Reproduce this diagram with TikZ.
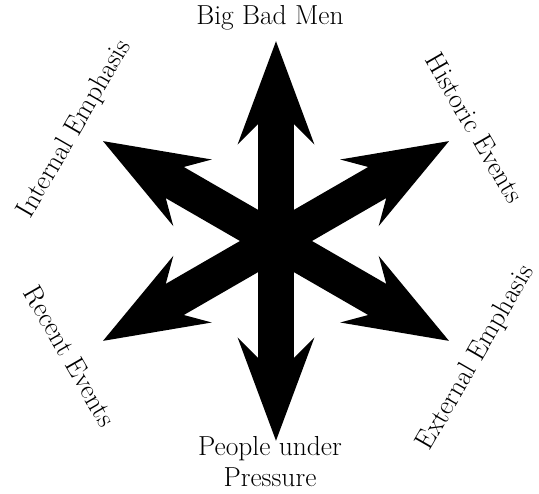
\documentclass[tikz,border=0pt]{standalone}
\usetikzlibrary{arrows.meta}
\begin{document}
\begin{tikzpicture}[x=1pt, y=1pt,
  arm/.style={line width=36pt,
    {Stealth[length=102pt, width=75pt, inset=37pt]}-{Stealth[length=102pt, width=75pt, inset=37pt]}},
  lbl/.style={font=\fontsize{27.5}{31}\selectfont, align=center}]
\useasboundingbox (-276,-253) rectangle (263,241);

\coordinate (o) at (0,0);
\coordinate (n) at (90:200pt);
\coordinate (s) at (-90:200pt);
\coordinate (ne) at (30:200pt);
\coordinate (sw) at (210:200pt);
\coordinate (nw) at (150:200pt);
\coordinate (se) at (-30:200pt);

\draw[arm] (s) -- (n);
\draw[arm] (sw) -- (ne);
\draw[arm] (se) -- (nw);

\node[lbl] (men) at (-6,223) {Big Bad Men};
\node[lbl] (people) at (-6,-221) {People under\\Pressure};
\node[lbl, rotate=-60] (historic) at (199,113) {Historic Events};
\node[lbl, rotate=60] (internal) at (-201,112) {Internal Emphasis};
\node[lbl, rotate=-60] (recent) at (-206,-115) {Recent Events};
\node[lbl, rotate=60] (external) at (200,-117) {External Emphasis};
\end{tikzpicture}
\end{document}
